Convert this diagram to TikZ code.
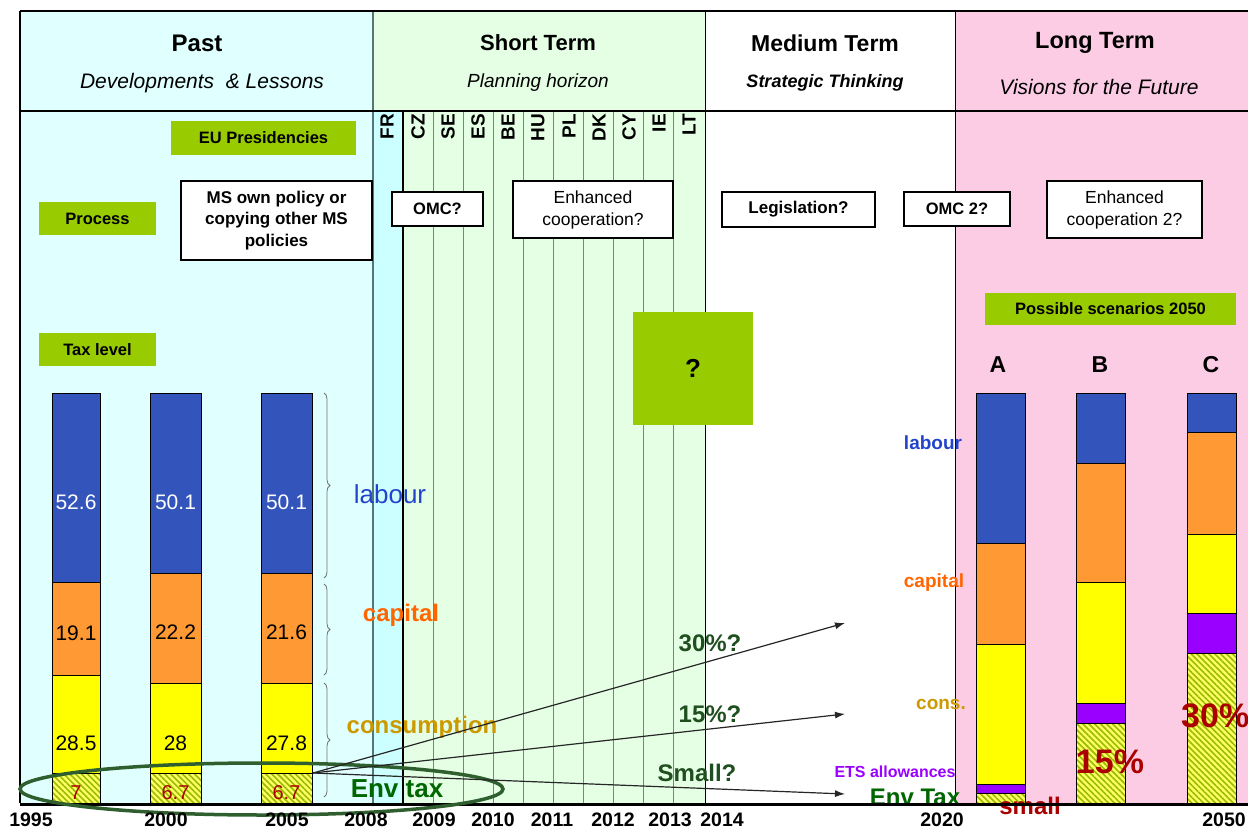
\documentclass[tikz,border=0pt]{standalone}
\usepackage{fontspec}
\setmainfont{Liberation Sans}
\usetikzlibrary{patterns,patterns.meta,decorations.pathreplacing,arrows.meta}
\definecolor{pastbg}{HTML}{E0FFFF}
\definecolor{frbg}{HTML}{CCFFFF}
\definecolor{shortbg}{HTML}{E5FFE5}
\definecolor{longbg}{HTML}{FCCCE5}
\definecolor{boxgreen}{HTML}{99CC00}
\definecolor{labourf}{HTML}{3355BB}
\definecolor{capitalf}{HTML}{FF9933}
\definecolor{consf}{HTML}{FFFF00}
\definecolor{etsf}{HTML}{9900FF}
\definecolor{labtxt}{HTML}{2244CC}
\definecolor{captxt}{HTML}{FF6600}
\definecolor{constxt}{HTML}{CC9900}
\definecolor{envtxt}{HTML}{006600}
\definecolor{qtxt}{HTML}{1F4F1F}
\definecolor{redtxt}{HTML}{AA0000}
\definecolor{ellc}{HTML}{2F5F2F}
\definecolor{sepc}{HTML}{557777}
\definecolor{gridc}{HTML}{778877}
\definecolor{hatchbase}{HTML}{FFFF66}
\definecolor{hatchline}{HTML}{99BB00}
\newcommand\fsz[1]{\fontsize{#1}{#1}\selectfont}
\begin{document}
\begin{tikzpicture}[x=1pt,y=-1pt,
  gbox/.style={fill=boxgreen, inner sep=0pt, font=\bfseries\fsz{16.5}},
  wbox/.style={draw=black, line width=1.8pt, fill=white, inner sep=0pt, align=center},
  barseg/.style={draw=black, line width=1pt},
  envseg/.style={draw=black, line width=1pt, pattern={Lines[angle=-45, distance=4.2pt, line width=1.6pt]}, pattern color=hatchline},
  yearlbl/.style={font=\bfseries\fsz{19.5}},
  cc/.style={rotate=90, anchor=east, font=\bfseries\fsz{19}, inner sep=0pt},
  num/.style={font=\fsz{21}},
  envnum/.style={font=\fsz{20}, text=redtxt},
  qarrow/.style={-{Latex[length=10pt,width=7pt]}, line width=1.2pt, draw=black!85},
  qlbl/.style={font=\bfseries\fsz{24}, text=qtxt},
  brc/.style={decorate, decoration={brace, amplitude=6pt}, draw=black!55, line width=0.8pt}
]
\useasboundingbox (0,0) rectangle (1248,829);
\fill[white] (0,0) rectangle (1248,829);
% backgrounds
\fill[pastbg] (20,11) rectangle (373,803);
\fill[shortbg] (373,11) rectangle (705,803);
\fill[frbg] (373,111) rectangle (403,803);
\fill[longbg] (955,11) rectangle (1248,803);
% grid lines
\foreach \x in {433,463,...,673} \draw[gridc, line width=1pt] (\x,111) -- (\x,803);
\draw[black, line width=1.2pt] (403,111) -- (403,803);
\draw[black, line width=1pt] (705,11) -- (705,803);
\draw[black, line width=1pt] (955,11) -- (955,803);
\draw[sepc, line width=2.5pt] (373,11) -- (373,803);
\draw[black, line width=1.2pt] (20,11) -- (20,803);
\draw[black, line width=1.2pt] (20,11) -- (1248,11);
\draw[black, line width=1.2pt] (20,111) -- (1248,111);
% headers
\node[font=\bfseries\fsz{24}] (hpast) at (197,43) {Past};
\node[font=\itshape\fsz{21}] (spast) at (202,83) {Developments~ \& Lessons};
\node[font=\bfseries\fsz{22}] (hshort) at (538,43) {Short Term};
\node[font=\itshape\fsz{19}] (sshort) at (538,83) {Planning horizon};
\node[font=\bfseries\fsz{23}] (hmed) at (825,43) {Medium Term};
\node[font=\bfseries\itshape\fsz{18}] (smed) at (825,83) {Strategic Thinking};
\node[font=\bfseries\fsz{23.5}] (hlong) at (1095,43) {Long Term};
\node[font=\itshape\fsz{21}] (slong) at (1099,87) {Visions for the Future};
% country codes
\foreach \c/\x in {FR/387,CZ/418,SE/448,ES/478,BE/508,HU/538,PL/569,DK/599,CY/629,IE/659,LT/689}
  \node[cc] (cc\c) at (\x,114) {\c};
% green boxes
\node[gbox, minimum width=185pt, minimum height=34pt] (eupres) at (263.5,138) {EU Presidencies};
\node[gbox, minimum width=117pt, minimum height=33pt] (process) at (97.5,218.5) {Process};
\node[gbox, minimum width=117pt, minimum height=33pt] (taxlevel) at (97.5,349.5) {Tax level};
\node[gbox, minimum width=251pt, minimum height=32pt] (scen) at (1110.5,309) {Possible scenarios 2050};
\node[gbox, minimum width=120pt, minimum height=113pt, font=\bfseries\fsz{26}] (qbox) at (693,368.5) {?};
% white boxes
\node[wbox, minimum width=191pt, minimum height=79pt, font=\bfseries\fontsize{17}{21.5}\selectfont] (msown) at (276.5,220.5) {MS own policy or\\copying other MS\\policies};
\node[wbox, minimum width=91pt, minimum height=34pt, font=\bfseries\fsz{16.5}] (omc) at (437.5,209) {OMC?};
\node[wbox, minimum width=160pt, minimum height=57pt, font=\fontsize{17.5}{22}\selectfont] (enh) at (593,209.5) {Enhanced\\cooperation?};
\node[wbox, minimum width=153pt, minimum height=35pt, font=\bfseries\fsz{17}] (legis) at (798.5,209.5) {Legislation?};
\node[wbox, minimum width=106pt, minimum height=34pt, font=\bfseries\fsz{16.5}] (omc2) at (957,209) {OMC 2?};
\node[wbox, minimum width=155pt, minimum height=57pt, font=\fontsize{17.5}{22}\selectfont] (enh2) at (1124.5,209.5) {Enhanced\\cooperation 2?};
% past bars
\foreach \xa/\xb/\la/\lb/\ca in {52/100/582/675/773, 150/201/573/683/773, 261/312/573/683/773}{
  \filldraw[barseg, fill=labourf] (\xa,393) rectangle (\xb,\la);
  \filldraw[barseg, fill=capitalf] (\xa,\la) rectangle (\xb,\lb);
  \filldraw[barseg, fill=consf] (\xa,\lb) rectangle (\xb,\ca);
  \fill[hatchbase] (\xa,\ca) rectangle (\xb,803);
  \filldraw[envseg] (\xa,\ca) rectangle (\xb,803);
}
% numbers
\node[num, text=white] (n11) at (76,502) {52.6};
\node[num] (n12) at (76,633) {19.1};
\node[num] (n13) at (76,743) {28.5};
\node[envnum] (n14) at (76,793) {7};
\node[num, text=white] (n21) at (175.5,502) {50.1};
\node[num] (n22) at (175.5,632) {22.2};
\node[num] (n23) at (175.5,743) {28};
\node[envnum] (n24) at (175.5,793) {6.7};
\node[num, text=white] (n31) at (286.5,502) {50.1};
\node[num] (n32) at (286.5,632) {21.6};
\node[num] (n33) at (286.5,743) {27.8};
\node[envnum] (n34) at (286.5,793) {6.7};
% braces
\draw[brc] (324,393) -- (324,578);
\draw[brc] (324,584) -- (324,675);
\draw[brc] (324,683) -- (324,797);
% left labels
\node[font=\fsz{26}, text=labtxt] (llab) at (390,494) {labour};
\node[font=\bfseries\fsz{24}, text=captxt] (lcap) at (401,615) {capital};
\node[font=\bfseries\fsz{24}, text=constxt] (lcons) at (422,727) {consumption};
\node[font=\bfseries\fsz{26}, text=envtxt] (lenv) at (397,789) {Env tax};
% scenario bars
\foreach \xa/\xb/\la/\lb/\ca/\pa in {976/1025/543/644/784/793, 1076/1125/463/582/703/723, 1187/1236/432/534/613/653}{
  \filldraw[barseg, fill=labourf] (\xa,393) rectangle (\xb,\la);
  \filldraw[barseg, fill=capitalf] (\xa,\la) rectangle (\xb,\lb);
  \filldraw[barseg, fill=consf] (\xa,\lb) rectangle (\xb,\ca);
  \filldraw[barseg, fill=etsf] (\xa,\ca) rectangle (\xb,\pa);
  \fill[hatchbase] (\xa,\pa) rectangle (\xb,803);
  \filldraw[envseg] (\xa,\pa) rectangle (\xb,803);
}
\node[font=\bfseries\fsz{23}] (sa) at (998,365) {A};
\node[font=\bfseries\fsz{23}] (sb) at (1100,365) {B};
\node[font=\bfseries\fsz{23}] (sc) at (1211,365) {C};
% right labels
\node[font=\bfseries\fsz{19}, text=labtxt] (rlab) at (933,443) {labour};
\node[font=\bfseries\fsz{19}, text=captxt] (rcap) at (934,583) {capital};
\node[font=\bfseries\fsz{19}, text=constxt] (rcons) at (941,704) {cons.};
\node[font=\bfseries\fsz{16}, text=etsf] (rets) at (895,772) {ETS allowances};
\node[font=\bfseries\fsz{24}, text=envtxt] (renv) at (915,797) {Env Tax};
\node[font=\bfseries\fsz{24}, text=redtxt] (rsmall) at (1030,806) {small};
\node[font=\bfseries\fsz{34}, text=redtxt] (r15) at (1110,762) {15\%};
\node[font=\bfseries\fsz{34}, text=redtxt, anchor=west, inner sep=0pt] (r30) at (1181,716) {30\%};
% axis
\draw[black, line width=3pt] (20,804) -- (1248,804);
% ellipse
\draw[ellc, line width=3.5pt] (261.5,789) ellipse [x radius=241.5pt, y radius=26pt];
% arrows
\coordinate (src) at (313,773);
\coordinate (t30) at (845,623);
\coordinate (t15) at (845,714);
\coordinate (tsm) at (845,794);
\draw[qarrow] (src) -- (t30);
\draw[qarrow] (src) -- (t15);
\draw[qarrow] (src) -- (tsm);
\node[qlbl] (q30) at (710,643) {30\%?};
\node[qlbl] (q15) at (710,714) {15\%?};
\node[qlbl] (qsm) at (697,773) {Small?};
% years
\foreach \y/\x in {1995/31,2000/166,2005/287,2008/366,2009/434,2010/493,2011/552,2012/613,2013/670,2014/722,2020/942,2050/1224}
  \node[yearlbl] (y\y) at (\x,820) {\y};
\end{tikzpicture}
\end{document}
